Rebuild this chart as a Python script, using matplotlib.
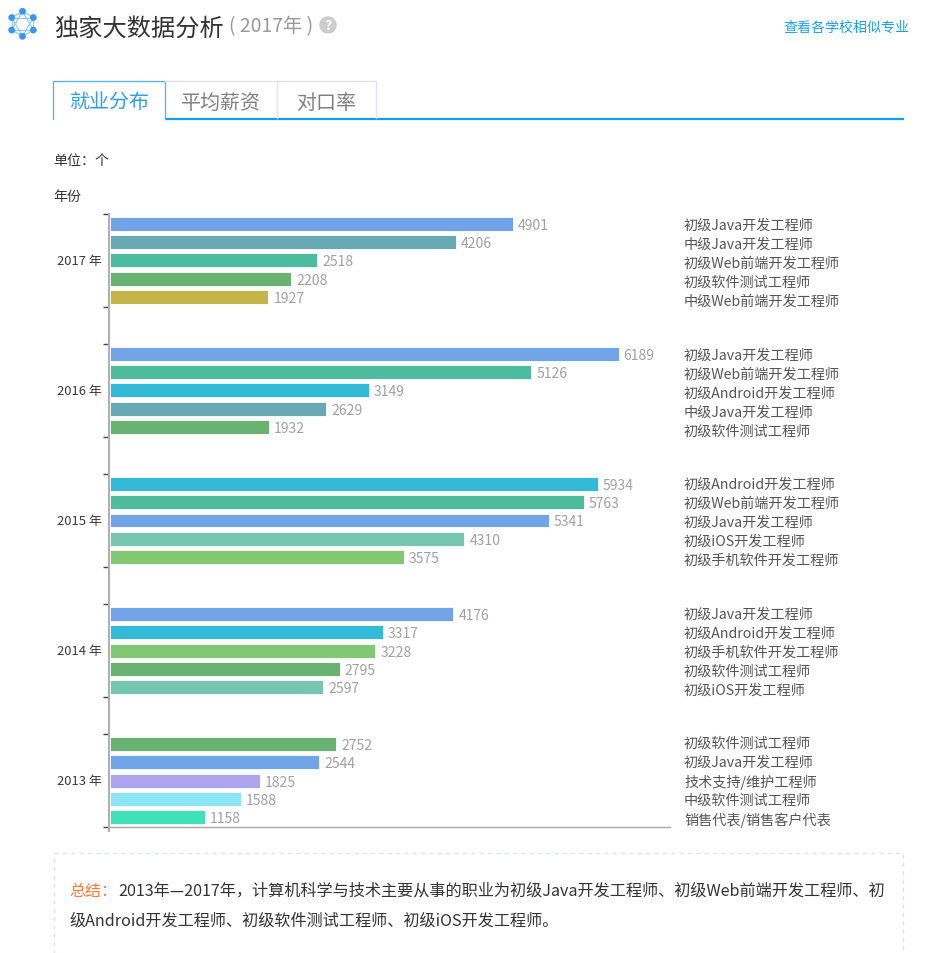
# job distribution page, bars per year with page furniture around them
import numpy as np
import matplotlib
matplotlib.use("Agg")
import matplotlib.pyplot as plt
from matplotlib.patches import Rectangle, Circle
from matplotlib.transforms import ScaledTranslation

plt.rcParams['font.family'] = ['Noto Sans CJK SC', 'DejaVu Sans']

# data
years = ['2017 年', '2016 年', '2015 年', '2014 年', '2013 年']
jobs_2017 = ['初级Java开发工程师', '中级Java开发工程师', '初级Web前端开发工程师', '初级软件测试工程师', '中级Web前端开发工程师']
jobs_2016 = ['初级Java开发工程师', '初级Web前端开发工程师', '初级Android开发工程师', '中级Java开发工程师', '初级软件测试工程师']
jobs_2015 = ['初级Android开发工程师', '初级Web前端开发工程师', '初级Java开发工程师', '初级iOS开发工程师', '初级手机软件开发工程师']
jobs_2014 = ['初级Java开发工程师', '初级Android开发工程师', '初级手机软件开发工程师', '初级软件测试工程师', '初级iOS开发工程师']
jobs_2013 = ['初级软件测试工程师', '初级Java开发工程师', '技术支持/维护工程师', '中级软件测试工程师', '销售代表/销售客户代表']
vals_2017 = [4901, 4206, 2518, 2208, 1927]
vals_2016 = [6189, 5126, 3149, 2629, 1932]
vals_2015 = [5934, 5763, 5341, 4310, 3575]
vals_2014 = [4176, 3317, 3228, 2795, 2597]
vals_2013 = [2752, 2544, 1825, 1588, 1158]
tabs = ['就业分布', '平均薪资', '对口率']

all_jobs = [jobs_2017, jobs_2016, jobs_2015, jobs_2014, jobs_2013]
all_vals = [vals_2017, vals_2016, vals_2015, vals_2014, vals_2013]

job_colors = {
    '初级Java开发工程师': '#6fa3e8',
    '中级Java开发工程师': '#66a7b5',
    '初级Web前端开发工程师': '#48ba9c',
    '初级软件测试工程师': '#66b16f',
    '中级Web前端开发工程师': '#c4b343',
    '初级Android开发工程师': '#2fb9d8',
    '初级iOS开发工程师': '#73c4ae',
    '初级手机软件开发工程师': '#80c76f',
    '技术支持/维护工程师': '#aca4ee',
    '中级软件测试工程师': '#8ae4f5',
    '销售代表/销售客户代表': '#3ce0b8',
}

W, H = 941, 954
BLUE = '#0f9ff0'
PX = 0.72  # px to pt at dpi 100

fig = plt.figure(figsize=(W / 100, H / 100), dpi=100, facecolor='white')

# page axes, coordinates are pixels
page = fig.add_axes([0, 0, 1, 1])
page.set_xlim(0, W)
page.set_ylim(H, 0)
page.axis('off')

# logo
cx, cy, r = 22.5, 24.8, 12.5
ang = np.deg2rad(np.arange(6) * 60 + 90)
hx = cx + r * np.cos(ang)
hy = cy - r * np.sin(ang)
for i in range(6):
    for step in (1, 2):
        k = (i + step) % 6
        page.plot([hx[i], hx[k]], [hy[i], hy[k]], color='#8cc4f5', lw=0.8, zorder=2)
    page.add_patch(Circle((hx[i], hy[i]), 2.7, color='#3a97f0', zorder=3))

# header
page.text(54.5, 28.5, '独家大数据分析', fontsize=24.2 * PX, color='#333333', va='center')
page.text(229, 27, '( 2017年 )', fontsize=19.3 * PX, color='#999999', va='center')
page.add_patch(Circle((328, 26), 8, color='#cccccc'))
page.text(328, 26.5, '?', fontsize=14 * PX, color='white', weight='bold', ha='center', va='center')
page.text(909, 27.5, '查看各学校相似专业', fontsize=14 * PX, color='#1a9ff0', ha='right', va='center')

# tabs
page.plot([165.5, 904], [120, 120], color=BLUE, lw=1.6, solid_capstyle='butt')
page.plot([53.5, 53.5, 165.5, 165.5], [120, 81.5, 81.5, 120], color='#5cb3ee', lw=1)
page.plot([165.5, 277.5, 277.5], [81.5, 81.5, 119], color='#e2e2ea', lw=1)
page.plot([277.5, 376.5, 376.5], [81.5, 81.5, 119], color='#e2e2ea', lw=1)
page.text(109.5, 103, tabs[0], fontsize=20 * PX, color='#2d9fee', ha='center', va='center')
page.text(221, 103, tabs[1], fontsize=20 * PX, color='#808080', ha='center', va='center')
page.text(326.5, 103, tabs[2], fontsize=20 * PX, color='#808080', ha='center', va='center')

page.text(53.5, 161, '单位：个', fontsize=14 * PX, color='#333333', va='center')
page.text(53.5, 197, '年份', fontsize=14 * PX, color='#333333', va='center')

# job names on the right, they have their own spacing
for i, jobs in enumerate(all_jobs):
    mid = 264 + i * 129.5
    for j, job in enumerate(jobs):
        page.text(684, mid + (j - 2) * 19, job, fontsize=14.15 * PX, color='#555555', va='center')

# summary box
page.add_patch(Rectangle((54, 853.5), 849, 130, fill=False, ec='#dfe1ea', lw=1, ls=(0, (3, 3))))
page.text(69.5, 891.5, '总结：', fontsize=16 * PX, color='#ff7a3c', va='center')
page.text(118, 891.5, '2013年—2017年，计算机科学与技术主要从事的职业为初级Java开发工程师、初级Web前端开发工程师、初',
          fontsize=16.15 * PX, color='#333333', va='center')
page.text(69.5, 921.5, '级Android开发工程师、初级软件测试工程师、初级iOS开发工程师。',
          fontsize=16.1 * PX, color='#333333', va='center')

# chart axes
left, right, top, bottom = 110, 670, 215, 828
ax = fig.add_axes([left / W, 1 - bottom / H, (right - left) / W, (bottom - top) / H])
ax.patch.set_alpha(0)
group_px = 130.1
y_top = -46.5 / group_px
y_bot = (bottom - 261.5) / group_px
ax.set_ylim(y_bot, y_top)
ax.set_xlim(0, (right - left) / 0.0822)

bar_step = 18.3 / group_px
bar_h = 14 / group_px
for i, (jobs, vals) in enumerate(zip(all_jobs, all_vals)):
    ys = i + (np.arange(5) - 2) * bar_step
    colors = [job_colors[j] for j in jobs]
    ax.barh(ys, vals, height=bar_h, color=colors, edgecolor='white', linewidth=0.6, alpha=0.98)
    for y, v in zip(ys, vals):
        ax.annotate(str(v), (v, y), xytext=(5 * PX, -1 * PX), textcoords='offset points',
                    fontsize=14 * PX, color='#a0a0a0', va='center')

for s in ('top', 'right'):
    ax.spines[s].set_visible(False)
ax.spines['left'].set_color('#b0b0b0')
ax.spines['left'].set_linewidth(1.5)
ax.spines['left'].set_position(('outward', 1 * PX))
ax.spines['left'].set_bounds(y_bot + 4 / group_px, y_top)
ax.spines['bottom'].set_color('#a8a8a8')
ax.spines['bottom'].set_linewidth(1)
ax.set_xticks([])

edges = [e for i in range(5) for e in (i + y_top, i + 46.5 / group_px)]
ax.set_yticks(edges)
ax.set_yticklabels([])
ax.tick_params(axis='y', which='major', length=4, width=1, color='#444444')
ax.set_yticks(range(5), minor=True)
ax.set_yticklabels(years, minor=True, fontsize=13 * PX, color='#3a3a3a')
ax.tick_params(axis='y', which='minor', length=0, pad=5)
# year labels sit a little above the group centre
for lab in ax.get_yticklabels(minor=True):
    lab.set_transform(lab.get_transform() + ScaledTranslation(0, 1.5 / 100, fig.dpi_scale_trans))

fig.savefig('out.png', dpi=100)
